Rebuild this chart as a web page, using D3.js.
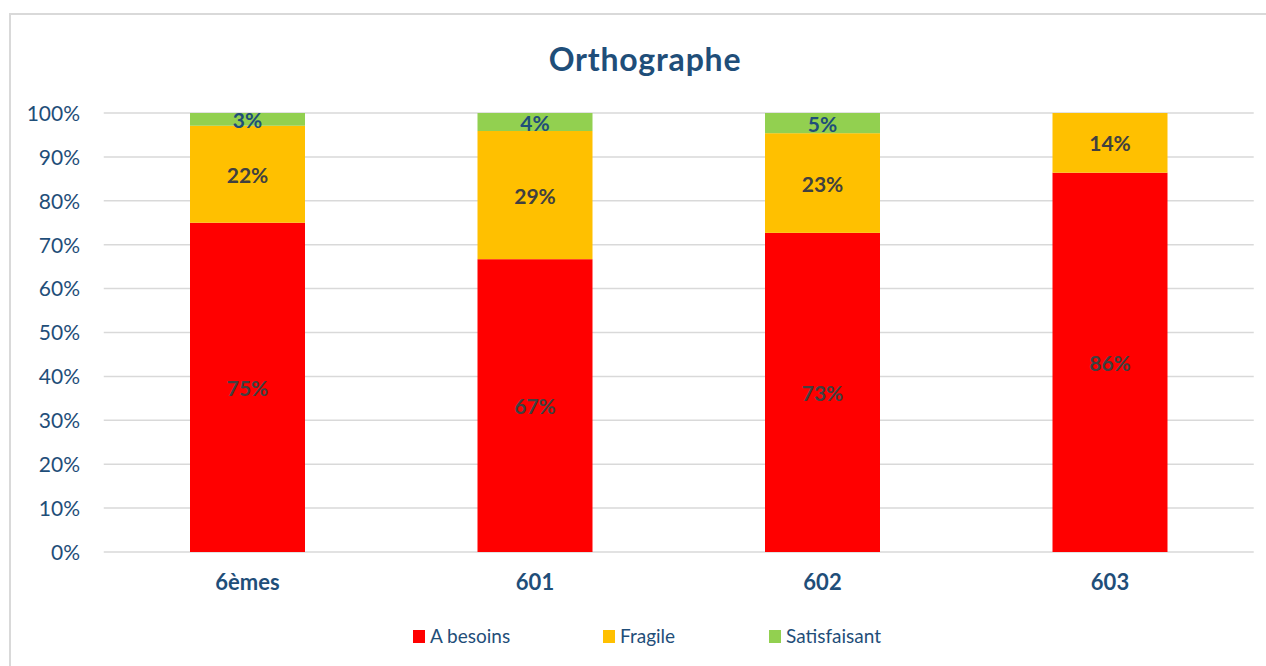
<!DOCTYPE html>
<html>
<head>
<meta charset="utf-8">
<script src="https://cdn.jsdelivr.net/npm/d3@7"></script>
<style>
  body { margin: 0; background: #fff; }
  svg text { font-family: Lato, "Open Sans", sans-serif; }
</style>
</head>
<body>
<svg id="chart" width="1266" height="666"></svg>
<script>
// données (pourcentages)
var CLASSES = ["6èmes", "601", "602", "603"];
var SERIES = ["A besoins", "Fragile", "Satisfaisant"];
var A_BESOINS = [75.0, 66.7, 72.7, 86.4];
var FRAGILE = [22.1, 29.2, 22.7, 13.6];
var SATISFAISANT = [2.9, 4.1, 4.6, 0];
var COLORS = ["#FF0000", "#FFC000", "#92D050"];
var Y_TICKS = [0, 10, 20, 30, 40, 50, 60, 70, 80, 90, 100];

var svg = d3.select("#chart");
var BLUE = "#1F4E79";

// cadre du graphique
svg.append("rect")
    .attr("x", 10).attr("y", 14)
    .attr("width", 1300).attr("height", 700)
    .attr("fill", "#fff")
    .attr("stroke", "#D9D9D9")
    .attr("stroke-width", 2);

var x = d3.scaleBand()
    .domain(CLASSES)
    .range([103.75, 1253.75])
    .paddingInner(0.6)
    .paddingOuter(0.3);

var y = d3.scaleLinear()
    .domain([0, 100])
    .range([552, 113]);

// titre
svg.append("text")
    .attr("x", 645).attr("y", 71)
    .attr("text-anchor", "middle")
    .attr("fill", BLUE)
    .style("font-size", "32px")
    .style("letter-spacing", "0.8px")
    .style("font-weight", "bold")
    .text("Orthographe");

// grille
svg.append("g")
    .selectAll("line")
    .data(Y_TICKS)
    .enter()
    .append("line")
    .attr("x1", 103.75).attr("x2", 1253.75)
    .attr("y1", function(d) { return y(d); })
    .attr("y2", function(d) { return y(d); })
    .attr("stroke", "#D9D9D9")
    .attr("stroke-width", 1.5);

// axe Y
var yAxis = svg.append("g")
    .attr("transform", "translate(80,0)")
    .call(d3.axisLeft(y).tickValues(Y_TICKS).tickSize(0).tickPadding(0)
        .tickFormat(function(d) { return d + "%"; }));
yAxis.select(".domain").remove();
yAxis.selectAll("text")
    .attr("fill", BLUE)
    .attr("dy", "0.35em")
    .style("font-size", "21px")
    .style("font-family", "Lato, 'Open Sans', sans-serif");

// axe X
var xAxis = svg.append("g")
    .attr("transform", "translate(0,552)")
    .call(d3.axisBottom(x).tickSize(0).tickPadding(22));
xAxis.select(".domain").remove();
xAxis.selectAll("text")
    .attr("fill", BLUE)
    .style("font-size", "22px")
    .style("font-weight", "bold")
    .style("font-family", "Lato, 'Open Sans', sans-serif");

// empilement
var rows = CLASSES.map(function(c, i) {
    return { classe: c, "A besoins": A_BESOINS[i], "Fragile": FRAGILE[i], "Satisfaisant": SATISFAISANT[i] };
});
var stacked = d3.stack().keys(SERIES)(rows);

var layers = svg.append("g")
    .selectAll("g")
    .data(stacked)
    .enter()
    .append("g")
    .attr("fill", function(d, i) { return COLORS[i]; });

layers.selectAll("rect")
    .data(function(d) { return d; })
    .enter()
    .append("rect")
    .attr("x", function(d) { return x(d.data.classe); })
    .attr("width", x.bandwidth())
    .attr("y", function(d) { return y(d[1]); })
    .attr("height", function(d) { return y(d[0]) - y(d[1]); });

// étiquettes de données
layers.each(function(layer, li) {
    d3.select(this).selectAll("text")
        .data(layer.filter(function(d) { return d[1] - d[0] > 0; }))
        .enter()
        .append("text")
        .attr("x", function(d) { return x(d.data.classe) + x.bandwidth() / 2; })
        .attr("y", function(d) { return (y(d[0]) + y(d[1])) / 2 + 1; })
        .attr("dy", "0.36em")
        .attr("text-anchor", "middle")
        .attr("fill", li == 2 ? BLUE : "#404040")
        .style("font-size", "21px")
        .style("font-weight", "bold")
        .text(function(d) { return Math.round(d[1] - d[0]) + "%"; });
});

// légende
var legendX = [413, 603, 769];
var legend = svg.append("g")
    .selectAll("g")
    .data(SERIES)
    .enter()
    .append("g")
    .attr("transform", function(d, i) { return "translate(" + legendX[i] + ",630)"; });
legend.append("rect")
    .attr("width", 12).attr("height", 13)
    .attr("fill", function(d, i) { return COLORS[i]; });
legend.append("text")
    .attr("x", 17).attr("y", 6.5)
    .attr("dy", "0.36em")
    .attr("fill", BLUE)
    .style("font-size", "19px")
    .text(function(d) { return d; });
</script>
</body>
</html>
